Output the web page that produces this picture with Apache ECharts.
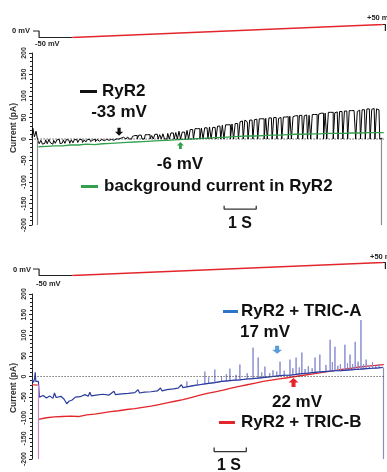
<!DOCTYPE html>
<html>
<head>
<meta charset="utf-8">
<script src="https://cdn.jsdelivr.net/npm/echarts@6/dist/echarts.min.js"></script>
<style>
  html, body { margin: 0; padding: 0; background: #fff; }
  #chart { width: 387px; height: 472px; }
</style>
</head>
<body>
<div id="chart"></div>
<script>
const FONT = '"Liberation Sans", Arial, sans-serif'

// ---- time axis (seconds) shared by all four grids ----
const timeMin = -0.2
const timeMax = 10.85

// ---- voltage protocol (mV) ----
const stepTimes = [-0.17, 0.02, 0.02, 1.05]
const stepVolts = [0, 0, -50, -50]
const rampTimes = [1.05, 10.72]
const rampVolts = [-50, 50]
const returnTimes = [10.72, 10.8, 10.8]
const returnVolts = [50, 50, 0]

// ---- top panel: RyR2 single channel current (pA), sampled every 0.05 s from -0.2 s ----
const ryr2Start = -0.2
const ryr2Step = 0.05
const ryr2Current = [
  2, 25, 5, 18,
  -2, -11, -3, -12, -10, -2, -11, -1, -9, -12, -3, -10, -2, -1, -11, -9, -2, -10, -1, -3, -10, -2, -9, -1,
  -2, -8, -1, -1, -8, -2, -7, -1, -1, -6, -2, -1, -6, -1, -5, -1, -1, -4, -1, -1, -3, -1, -1, -3, 0, 0,
  0, 2, 0, 4, 0, 1, 5, 0, 0, 6,
  8, 8, 0, 9, 9, 0, 0, 10, 10, 10, 0, 8, 0, 11, 11, 0, 10, 0, 12, 0,
  0, 13, 0, 14, 14, 0, 15, 0, 18, 0, 16, 16, 0, 20,
  0, 22, 22, 0, 24, 24, 24, 0, 25, 0, 26, 26, 0, 28, 0, 27,
  27, 0, 30, 30, 0, 32, 0, 33, 33, 33, 0, 35, 0, 36, 36, 0, 40, 42, 0, 44, 40, 0,
  44, 44, 0, 45, 46, 0, 47, 47, 47, 0, 48, 0, 49, 49, 0, 50, 50, 0, 48, 50,
  0, 51, 51, 52, 0, 53, 0, 52, 54, 54, 0, 55, 55, 0, 54, 56, 0, 55, 0, 57,
  57, 57, 0, 58, 60, 60, 0, 60, 0, 62, 62, 62, 0, 61, 63, 0, 64, 64, 0, 65,
  65, 0, 66, 66, 66, 66, 0, 64, 67, 0, 68, 68, 0, 70, 70, 0, 69, 71, 0, 70, 68, 0, 2
]

// background current (pA), every 0.25 s from 0 s
const bgStart = 0
const bgStep = 0.25
const bgCurrent = [
  -18, -17, -16, -16, -14, -14, -12, -13, -11, -10,
  -9, -8, -7, -6, -5, -4, -3, -2, -1, 0,
  1, 2, 3, 4, 5, 6, 7, 7, 8, 9,
  9, 10, 11, 11, 12, 12, 13, 13, 13, 14,
  14, 15, 15, 15
]

// ---- bottom panel ----
// RyR2 + TRIC-A baseline [s, pA]
const tricABase = [
  [-0.2, -8], [-0.15, -14], [-0.12, -5], [-0.1, 10], [-0.08, -12], [-0.03, -10], [0, -12],
  [0.03, -50], [0.15, -46], [0.25, -52], [0.35, -47], [0.45, -53], [0.5, -40], [0.55, -51],
  [0.7, -48], [0.8, -55], [0.88, -66], [0.95, -60], [1.05, -57], [1.15, -50], [1.3, -49],
  [1.45, -44], [1.55, -48], [1.6, -38], [1.65, -47], [1.8, -45], [2.0, -43], [2.2, -45],
  [2.35, -36], [2.4, -44], [2.6, -42], [2.8, -41], [3.0, -39], [3.1, -32], [3.15, -40],
  [3.3, -38], [3.5, -37], [3.7, -35], [3.8, -28], [3.85, -35], [4.0, -32], [4.2, -30],
  [4.35, -28], [4.45, -20], [4.5, -27], [4.7, -24], [4.9, -21], [5.0, -20], [5.18, -18],
  [5.35, -16], [5.49, -15], [5.7, -12], [5.96, -10], [6.1, -9], [6.27, -8], [6.5, -6],
  [6.68, -5], [6.84, -4], [7.05, -2], [7.3, 0], [7.52, 2], [7.7, 3], [7.83, 3], [8.02, 5],
  [8.2, 7], [8.4, 8], [8.61, 10], [8.76, 11], [8.9, 12], [9.08, 13], [9.23, 14], [9.4, 14],
  [9.54, 15], [9.7, 16], [9.86, 17], [10.04, 18], [10.2, 19], [10.4, 20], [10.6, 21], [10.72, 22]
]
// TRIC-A openings [s, base pA, peak pA]
const tricASpikes = [
  [4.62, -25, -12], [4.95, -21, -8], [5.18, -18, 12], [5.3, -17, -2], [5.49, -15, 17],
  [5.7, -12, 0], [5.85, -11, 6], [5.96, -10, 19], [6.15, -9, 4], [6.27, -8, 29],
  [6.5, -6, 8], [6.68, -5, 70], [6.84, -4, 46], [6.95, -3, 10], [7.05, -2, 24],
  [7.2, -1, 8], [7.3, 0, 15], [7.42, 1, 12], [7.52, 2, 36], [7.65, 3, 14],
  [7.83, 3, 41], [7.92, 4, 20], [8.02, 5, 46], [8.12, 6, 22], [8.2, 7, 58],
  [8.3, 7, 18], [8.4, 8, 25], [8.52, 9, 20], [8.61, 10, 46], [8.76, 11, 53],
  [8.95, 12, 28], [9.08, 13, 89], [9.15, 13, 35], [9.23, 14, 72], [9.32, 14, 26],
  [9.4, 14, 30], [9.54, 15, 77], [9.62, 15, 32], [9.7, 16, 53], [9.78, 16, 30],
  [9.86, 17, 84], [9.95, 17, 36], [10.04, 18, 137], [10.12, 18, 30], [10.2, 19, 41],
  [10.3, 19, 28], [10.4, 20, 35], [10.5, 20, 26], [10.6, 21, 30]
]

// RyR2 + TRIC-B (pA), every 0.25 s from 0 s
const tricBLeadIn = [[-0.2, -20], [-0.02, -21]]
const tricBStart = 0
const tricBStep = 0.25
const tricBCurrent = [
  -104, -100, -98, -97, -96, -97, -93, -91, -88, -85,
  -83, -80, -78, -75, -72, -68, -64, -60, -56, -51,
  -46, -41, -37, -33, -28, -24, -20, -16, -12, -9,
  -6, -3, 0, 3, 6, 9, 12, 15, 18, 20,
  23, 25, 27, 29
]

// capacitive transients at the voltage steps [s, from pA, to pA]
const topTransients = [[-0.04, -2, -200], [10.66, 0, -200]]
const bottomTransients = [[-0.01, -20, -200], [10.72, 22, -200]]

// scale bars (1 s)
const topScaleTimes = [5.78, 5.78, 6.78, 6.78]
const topScaleValues = [-155, -163, -163, -155]
const bottomScaleTimes = [5.47, 5.47, 6.47, 6.47]
const bottomScaleValues = [-172, -182, -182, -172]

const zeroTimes = [-0.12, 10.8]

// ---- helpers ----
const zip = (xs, ys) => xs.map((x, i) => [x, ys[i]])
const sampled = (start, step, values) => values.map((v, i) => [+(start + i * step).toFixed(3), v])
const spikePath = (list) => {
  const out = []
  list.forEach(([t, base, peak]) => {
    out.push([t, base], [t, peak], [t, base])
  })
  return out
}
// vertical segments as markLine pairs
const transientLines = (list, colors) => list.map(([t, from, to], i) => [
  { coord: [t, from], lineStyle: { color: colors[i], width: 1.2, type: 'solid' } },
  { coord: [t, to] }
])

const arrowDown = 'path://M3,0L7,0L7,5L10,5L5,10L0,5L3,5Z'

function line(xi, data, color, width, extra) {
  return Object.assign({
    type: 'line', xAxisIndex: xi, yAxisIndex: xi, data,
    symbol: 'none', showSymbol: false, silent: true,
    lineStyle: { color, width }, z: 2
  }, extra || {})
}

const xAxes = [0, 1, 2, 3].map((g) => ({
  type: 'value', gridIndex: g, min: timeMin, max: timeMax, show: false
}))
const voltAxis = (g) => ({ type: 'value', gridIndex: g, min: -50, max: 50, show: false })
const currentAxis = (g) => ({
  type: 'value', gridIndex: g, min: -200, max: 200, interval: 50,
  axisLine: { show: true, onZero: false, lineStyle: { color: '#222', width: 1 } },
  axisTick: { show: true, length: 3, lineStyle: { color: '#222' } },
  minorTick: { show: true, splitNumber: 5, length: 2, lineStyle: { color: '#222' } },
  splitLine: { show: false },
  axisLabel: { rotate: 90, margin: 4, fontSize: 7, fontWeight: 'bold', color: '#333', fontFamily: FONT }
})

function txt(x, y, text, size, align, color, extra) {
  return Object.assign({
    type: 'text', x, y, silent: true,
    style: {
      text, fill: color || '#111', font: `bold ${size}px ${FONT}`,
      align: align || 'left', textAlign: align || 'left',
      verticalAlign: 'middle', textVerticalAlign: 'middle'
    }
  }, extra || {})
}
function dash(x, y, w, color) {
  return { type: 'rect', shape: { x, y, width: w, height: 3 }, style: { fill: color }, silent: true }
}

const GREEN = '#33a04e'
const RED = '#e3262b'
const BLUE = '#2c3c9e'

const chart = echarts.init(document.getElementById('chart'), null, { renderer: 'canvas' })
chart.setOption({
  animation: false,
  backgroundColor: '#fff',
  grid: [
    { left: 32, right: 0, top: 24.5, height: 13 },
    { left: 32, right: 0, top: 53, height: 172 },
    { left: 32, right: 0, top: 262.5, height: 13 },
    { left: 32, right: 0, top: 294, height: 165 }
  ],
  xAxis: xAxes,
  yAxis: [voltAxis(0), currentAxis(1), voltAxis(2), currentAxis(3)],
  series: [
    // voltage protocol, top
    line(0, zip(stepTimes, stepVolts), '#222', 1.2),
    line(0, zip(rampTimes, rampVolts), RED, 1.5),
    line(0, zip(returnTimes, returnVolts), '#222', 1.2),
    // voltage protocol, bottom
    line(2, zip(stepTimes, stepVolts), '#222', 1.2),
    line(2, zip(rampTimes, rampVolts), RED, 1.5),
    line(2, zip(returnTimes, returnVolts), '#222', 1.2),

    // top currents
    line(1, sampled(ryr2Start, ryr2Step, ryr2Current), '#000', 1, {
      step: 'middle', z: 3,
      markLine: {
        silent: true, symbol: ['none', 'none'], label: { show: false }, animation: false,
        data: transientLines(topTransients, ['#8c8c8c', '#8c8c8c'])
      }
    }),
    line(1, sampled(bgStart, bgStep, bgCurrent), GREEN, 1.3, { z: 4 }),
    line(1, zip(zeroTimes, [0, 0]), '#111', 1, {
      z: 5,
      lineStyle: { color: '#111', width: 1, type: [1, 2] },
      markPoint: {
        silent: true, label: { show: false },
        data: [
          { coord: [2.51, 17], symbol: arrowDown, symbolSize: [8, 8], itemStyle: { color: '#111' } },
          { coord: [4.42, -15], symbol: arrowDown, symbolSize: [7, 7], symbolRotate: 180, itemStyle: { color: GREEN } }
        ]
      }
    }),
    line(1, zip(topScaleTimes, topScaleValues), '#333', 1.3),

    // bottom currents
    line(3, tricBLeadIn, RED, 1.2),
    line(3, sampled(tricBStart, tricBStep, tricBCurrent), RED, 1.3, { z: 3 }),
    line(3, spikePath(tricASpikes), '#8b8fd2', 1, { z: 4 }),
    line(3, tricABase, BLUE, 1.2, {
      z: 4,
      markLine: {
        silent: true, symbol: ['none', 'none'], label: { show: false }, animation: false,
        data: transientLines(bottomTransients, ['#c985c0', '#8a8fb8'])
      }
    }),
    line(3, zip(zeroTimes, [0, 0]), '#111', 1, {
      z: 5,
      lineStyle: { color: '#333', width: 1, type: [1, 2] },
      markPoint: {
        silent: true, label: { show: false },
        data: [
          { coord: [7.43, 65], symbol: arrowDown, symbolSize: [10, 8], itemStyle: { color: '#5a9ad6' } },
          { coord: [7.94, -14.5], symbol: arrowDown, symbolSize: [10, 9], symbolRotate: 180, itemStyle: { color: RED } }
        ]
      }
    }),
    line(3, zip(bottomScaleTimes, bottomScaleValues), '#333', 1.3)
  ],
  graphic: [
    // top panel
    txt(30, 31, '0 mV', 7.5, 'right', '#222'),
    txt(35, 44, '-50 mV', 7.5, 'left', '#222'),
    txt(367, 18, '+50 mV', 7.5, 'left', '#222'),
    txt(14, 128, 'Current (pA)', 8.5, 'center', '#333', { rotation: Math.PI / 2 }),
    dash(80, 90, 17, '#111'),
    txt(102, 91, 'RyR2', 17),
    txt(119, 112, '-33 mV', 17, 'center'),
    txt(180, 164, '-6 mV', 17, 'center'),
    dash(81, 185, 17, GREEN),
    txt(104, 186, 'background current in RyR2', 17),
    txt(240, 224, '1 S', 16, 'center'),
    // bottom panel
    txt(31, 270, '0 mV', 7.5, 'right', '#222'),
    txt(36, 283.5, '-50 mV', 7.5, 'left', '#222'),
    txt(370, 257, '+50 mV', 7.5, 'left', '#222'),
    txt(14, 388, 'Current (pA)', 8.5, 'center', '#333', { rotation: Math.PI / 2 }),
    dash(223, 310, 15, '#2e75c8'),
    txt(241, 311, 'RyR2 + TRIC-A', 17),
    txt(265, 332, '17 mV', 17, 'center'),
    txt(297, 402, '22 mV', 17, 'center'),
    dash(219, 421, 16, RED),
    txt(241, 422, 'RyR2 + TRIC-B', 17),
    txt(229, 466, '1 S', 16, 'center')
  ]
})
</script>
</body>
</html>
